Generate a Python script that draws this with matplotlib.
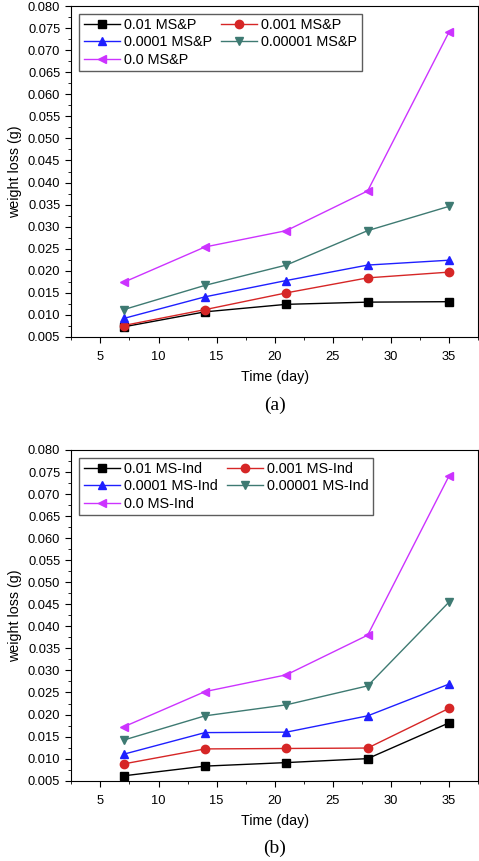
import matplotlib
matplotlib.use("Agg")
import matplotlib.pyplot as plt
from matplotlib.ticker import MultipleLocator, FormatStrFormatter

plt.rcParams['font.family'] = ['Liberation Sans', 'DejaVu Sans']

days = [7, 14, 21, 28, 35]
conc = ["0.01", "0.001", "0.0001", "0.00001", "0.0"]

a_001 = [0.0073, 0.0107, 0.0124, 0.0129, 0.0130]
a_0001 = [0.0076, 0.0112, 0.0150, 0.0184, 0.0197]
a_00001 = [0.0092, 0.0141, 0.0178, 0.0213, 0.0224]
a_000001 = [0.0112, 0.0167, 0.0213, 0.0291, 0.0346]
a_0 = [0.0174, 0.0254, 0.0291, 0.0381, 0.0741]

b_001 = [0.0061, 0.0083, 0.0091, 0.0100, 0.0181]
b_0001 = [0.0088, 0.0122, 0.0123, 0.0124, 0.0214]
b_00001 = [0.0110, 0.0159, 0.0160, 0.0197, 0.0269]
b_000001 = [0.0142, 0.0197, 0.0222, 0.0265, 0.0455]
b_0 = [0.0172, 0.0252, 0.0290, 0.0380, 0.0741]

colors = ['#000000', '#d62626', '#1f1fff', '#3e7a72', '#cc33ff']
markers = ['s', 'o', '^', 'v', '<']

fig = plt.figure(figsize=(4.79, 8.61), dpi=100)

def draw(rect, series, suffix, panel, panel_y):
    ax = fig.add_axes(rect)
    handles = []
    for vals, c, m, cc in zip(series, colors, markers, conc):
        h, = ax.plot(days, vals, color=c, marker=m, markersize=6, lw=1.0,
                     markeredgecolor=c, label=f"{cc} {suffix}")
        handles.append(h)
    ax.set_xlim(2.5, 37.5)
    ax.set_ylim(0.005, 0.080)
    ax.xaxis.set_major_locator(MultipleLocator(5))
    ax.xaxis.set_minor_locator(MultipleLocator(2.5))
    ax.yaxis.set_major_locator(MultipleLocator(0.005))
    ax.yaxis.set_minor_locator(MultipleLocator(0.0025))
    ax.yaxis.set_major_formatter(FormatStrFormatter('%.3f'))
    ax.tick_params(which='both', direction='out', labelsize=9.3)
    ax.tick_params(which='major', length=4)
    ax.tick_params(which='minor', length=2.5)
    ax.tick_params(axis='x', which='major', pad=6)
    ax.tick_params(axis='y', which='major', pad=4)
    ax.set_ylabel('weight loss (g)', fontsize=10.3, labelpad=4)
    ax.set_xlabel('Time (day)', fontsize=10.3, labelpad=5)
    order = [0, 2, 4, 1, 3]
    leg = ax.legend([handles[i] for i in order], [handles[i].get_label() for i in order],
                    ncol=2, loc='upper left', bbox_to_anchor=(0.0, 1.0),
                    fontsize=10.4, frameon=True, fancybox=False, borderpad=0.3,
                    handlelength=2.5, handletextpad=0.3, columnspacing=0.6,
                    labelspacing=0.22, borderaxespad=0.55)
    leg.get_frame().set_edgecolor('#333333')
    leg.get_frame().set_linewidth(1.0)
    x0, y0, w, h = rect
    fig.text(x0 + w / 2, panel_y, panel, ha='center', va='center',
             family='Liberation Serif', fontsize=14)
    return ax

draw([0.149, 0.6086, 0.849, 0.3844],
     [a_001, a_0001, a_00001, a_000001, a_0], 'MS&P', '(a)', 1 - 405 / 861)
draw([0.149, 0.0933, 0.849, 0.3841],
     [b_001, b_0001, b_00001, b_000001, b_0], 'MS-Ind', '(b)', 1 - 848 / 861)

fig.savefig('out.png', dpi=100)
